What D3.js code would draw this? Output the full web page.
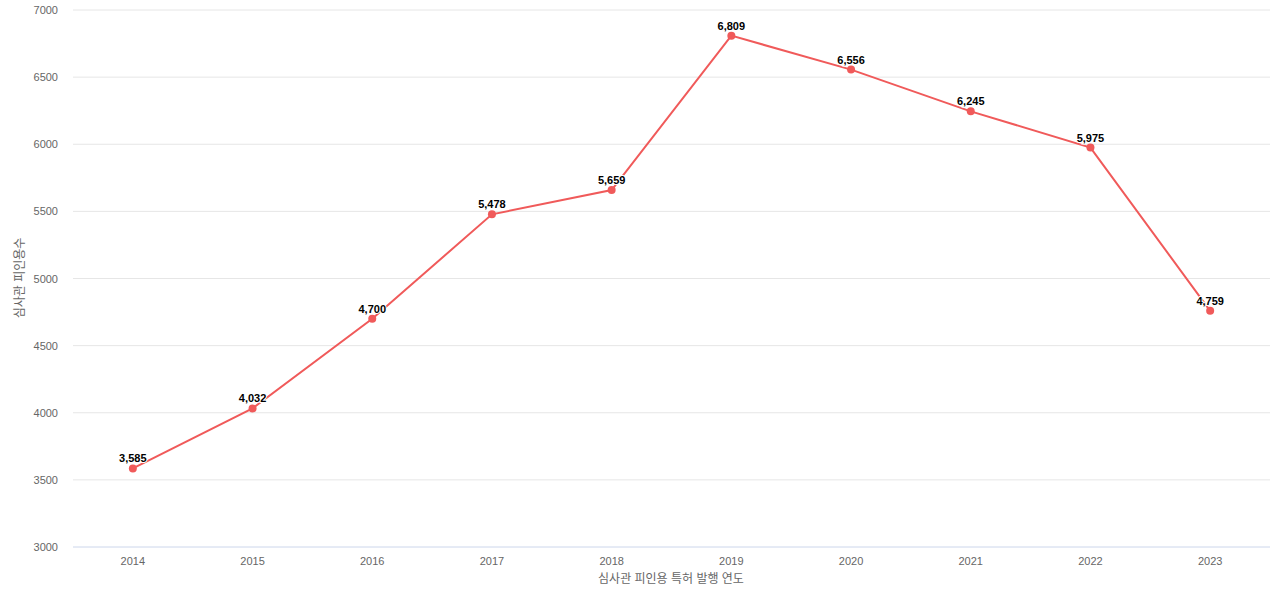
<!DOCTYPE html>
<html><head><meta charset="utf-8">
<script src="https://cdn.jsdelivr.net/npm/d3@7"></script>
<style>body{margin:0;background:#fff;font-family:"Liberation Sans","Noto Sans CJK KR",sans-serif}</style>
</head><body><svg id="c" width="1280" height="600"></svg>
<script>
const years = ["2014","2015","2016","2017","2018","2019","2020","2021","2022","2023"];
const values = [3585,4032,4700,5478,5659,6809,6556,6245,5975,4759];
const yTicks = [3000,3500,4000,4500,5000,5500,6000,6500,7000];
const xTitle = "심사관 피인용 특허 발행 연도";
const yTitle = "심사관 피인용수";

const svg = d3.select("#c");
const L=73,R=1270,T=10,B=547;
const x = d3.scalePoint().domain(years).range([L,R]).padding(0.5);
const y = d3.scaleLinear().domain([3000,7000]).range([B,T]);
const font='"Liberation Sans","Noto Sans CJK KR",sans-serif';

svg.append("g").selectAll("line").data(yTicks.slice(1)).join("line")
 .attr("x1",L).attr("x2",R).attr("y1",d=>y(d)).attr("y2",d=>y(d))
 .attr("stroke","#e6e6e6");
svg.append("line").attr("x1",L).attr("x2",R).attr("y1",B).attr("y2",B).attr("stroke","#ccd6eb");

svg.append("g").selectAll("text").data(yTicks).join("text")
 .attr("x",58).attr("y",d=>y(d)+4).attr("text-anchor","end")
 .attr("font-size",11).attr("fill","#666").attr("font-family",font).text(d=>d);
svg.append("g").selectAll("text").data(years).join("text")
 .attr("x",d=>x(d)).attr("y",565).attr("text-anchor","middle")
 .attr("font-size",11).attr("fill","#666").attr("font-family",font).text(d=>d);

svg.append("text").attr("x",671).attr("y",583).attr("text-anchor","middle")
 .attr("font-size",12).attr("fill","#666").attr("font-family",font).text(xTitle);
svg.append("text").attr("transform","translate(24,278) rotate(-90)").attr("text-anchor","middle")
 .attr("font-size",12).attr("fill","#666").attr("font-family",font).text(yTitle);

const data = years.map((yr,i)=>({yr,v:values[i]}));
svg.append("path").datum(data)
 .attr("d",d3.line().x(d=>x(d.yr)).y(d=>y(d.v)))
 .attr("fill","none").attr("stroke","#f05a5a").attr("stroke-width",2);
svg.append("g").selectAll("circle").data(data).join("circle")
 .attr("cx",d=>x(d.yr)).attr("cy",d=>y(d.v)).attr("r",4).attr("fill","#f05a5a");
svg.append("g").selectAll("text").data(data).join("text")
 .attr("x",d=>x(d.yr)).attr("y",d=>y(d.v)-6).attr("text-anchor","middle")
 .attr("font-size",11).attr("font-weight","bold").attr("fill","#000")
 .attr("stroke","#fff").attr("stroke-width",2).attr("paint-order","stroke")
 .attr("font-family",font).text(d=>d3.format(",")(d.v));
</script></body></html>
